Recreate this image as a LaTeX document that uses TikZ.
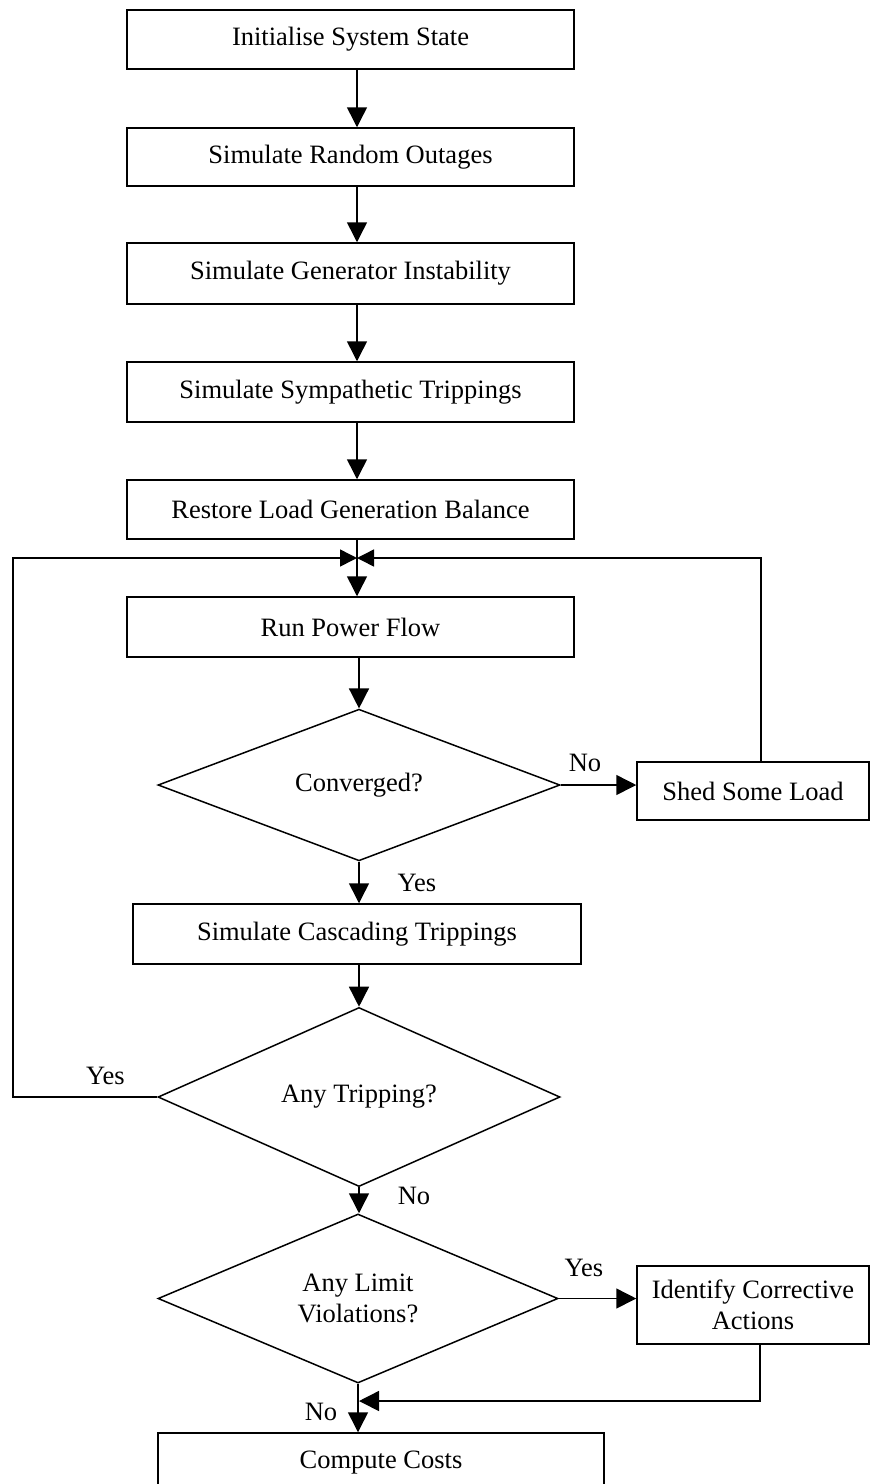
\documentclass[tikz,border=0pt]{standalone}
\usepackage{fontspec}
\setmainfont{Liberation Serif}
\usetikzlibrary{shapes.geometric,arrows.meta}
\begin{document}
\begin{tikzpicture}[x=1pt,y=-1pt,
  font=\fontsize{26.5}{30.5}\selectfont,
  line width=1.5pt,
  procbox/.style={draw,rectangle,inner sep=0pt,align=center},
  decision/.style={draw,diamond,inner sep=0pt,align=center},
  arr/.style={-{Triangle[length=20pt,width=20pt]}},
  arrs/.style={-{Triangle[length=17pt,width=17pt]}},
  lbl/.style={inner sep=0pt}]
\useasboundingbox (0,0) rectangle (890,1484);
\clip (0,0) rectangle (890,1484);

% main vertical spine and loop coordinates
\coordinate (spine) at (357,0);
\coordinate (merge) at (357,558);
\coordinate (loopR) at (761,558);
\coordinate (loopL) at (13,558);
\coordinate (joinR) at (760,1401);

% process steps
\node[procbox,minimum width=447pt,minimum height=59pt] (init) at (350.5,39.5) {Initialise System State};
\node[procbox,minimum width=447pt,minimum height=58pt] (outage) at (350.5,157) {Simulate Random Outages};
\node[procbox,minimum width=447pt,minimum height=61pt] (geninst) at (350.5,273.5) {Simulate Generator Instability};
\node[procbox,minimum width=447pt,minimum height=60pt] (sympa) at (350.5,392) {Simulate Sympathetic Trippings};
\node[procbox,minimum width=447pt,minimum height=59pt] (restore) at (350.5,509.5) {Restore Load Generation Balance};
\node[procbox,minimum width=447pt,minimum height=60pt] (pflow) at (350.5,627) {Run Power Flow};
\node[decision,minimum width=402pt,minimum height=142pt] (conv) at (359,785) {Converged?};
\node[procbox,minimum width=232pt,minimum height=58pt] (shed) at (753,791) {Shed Some Load};
\node[procbox,minimum width=448pt,minimum height=60pt] (casc) at (357,934) {Simulate Cascading Trippings};
\node[decision,minimum width=402pt,minimum height=142pt] (trip) at (359,1097) {Any Tripping?};
\node[decision,minimum width=400pt,minimum height=161pt] (limit) at (358,1298.5) {Any Limit\\Violations?};
\node[procbox,minimum width=232pt,minimum height=78pt] (ident) at (753,1305) {Identify Corrective\\Actions};
\node[procbox,minimum width=446pt,minimum height=59pt] (cost) at (381,1462.5) {Compute Costs};

% straight flow
\draw[arr] (init.south -| spine) -- (outage.north -| spine);
\draw[arr] (outage.south -| spine) -- (geninst.north -| spine);
\draw[arr] (geninst.south -| spine) -- (sympa.north -| spine);
\draw[arr] (sympa.south -| spine) -- (restore.north -| spine);
\draw[arr] (restore.south -| spine) -- (pflow.north -| spine);
\draw[arr] (pflow.south -| conv.north) -- (conv.north);

% convergence check
\draw[arr] (conv.east) -- (conv.east -| shed.west);
\node[lbl] (noconv) at (585,763) {No};
\draw[arrs] (shed.north -| loopR) -- (loopR) -- (merge);
\draw[arr] (conv.south) -- (conv.south |- casc.north);
\node[lbl] (yesconv) at (417,883) {Yes};

% tripping check
\draw[arr] (casc.south -| trip.north) -- (trip.north);
\draw[arrs] (trip.west) -| (loopL) -- (merge);
\node[lbl] (yestrip) at (105.5,1076) {Yes};
\draw[arr] (trip.south) -- (trip.south |- limit.north);
\node[lbl] (notrip) at (414,1196) {No};

% limit check
\draw[arr] (limit.east) -- (limit.east -| ident.west);
\node[lbl] (yeslimit) at (584,1268) {Yes};
\draw[arr] (ident.south -| joinR) -- (joinR) -- ([xshift=1pt]joinR -| limit.south);
\draw[arr] (limit.south) -- (limit.south |- cost.north);
\node[lbl] (nolimit) at (321,1412) {No};
\end{tikzpicture}
\end{document}
